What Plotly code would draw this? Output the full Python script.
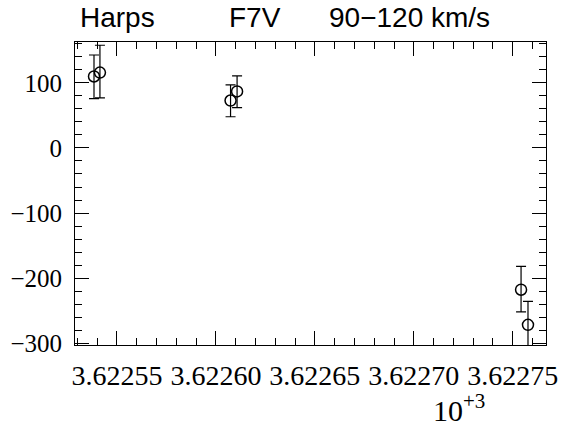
import plotly.graph_objects as go

# observation epochs (units of 10^3) and radial velocities
epoch = [3622.5384, 3622.5414, 3622.6074, 3622.6107, 3622.7542, 3622.7577]
rv = [110, 116, 73, 87, -218, -272]
rv_err_up = [33, 42, 24, 24, 36, 36]
rv_err_down = [34, 39, 25, 25, 34, 50]

xtick_vals = [3622.55, 3622.60, 3622.65, 3622.70, 3622.75]
xtick_text = ['3.62255', '3.62260', '3.62265', '3.62270', '3.62275']
ytick_vals = [100, 0, -100, -200, -300]
ytick_text = ['100', '0', '\u2212100', '\u2212200', '\u2212300']

fig = go.Figure()

fig.add_trace(go.Scatter(
    x=epoch,
    y=rv,
    mode='markers',
    marker=dict(symbol='circle-open', size=11, color='black', line=dict(width=1.5, color='black')),
    error_y=dict(type='data', symmetric=False, array=rv_err_up, arrayminus=rv_err_down,
                 color='black', thickness=1.2, width=5),
    showlegend=False
))

sans = dict(family='Liberation Sans', size=28, color='black')

fig.update_layout(
    width=563, height=426,
    margin=dict(l=75, r=17, t=42, b=81),
    plot_bgcolor='white', paper_bgcolor='white',
    annotations=[
        dict(text='Harps', x=0.006, y=1.023, xref='paper', yref='paper',
             xanchor='left', yanchor='bottom', showarrow=False, font=sans),
        dict(text='F7V', x=0.322, y=1.023, xref='paper', yref='paper',
             xanchor='left', yanchor='bottom', showarrow=False, font=sans),
        dict(text='90\u2212120 km/s', x=0.535, y=1.023, xref='paper', yref='paper',
             xanchor='left', yanchor='bottom', showarrow=False, font=sans),
        dict(text='10<sup>+3</sup>', x=0.875, y=-0.138,
             xref='paper', yref='paper', xanchor='right', yanchor='top', showarrow=False,
             font=dict(family='Liberation Serif', size=30, color='black')),
    ]
)

fig.update_xaxes(
    range=[3622.5288, 3622.7668],
    tickvals=xtick_vals, ticktext=xtick_text,
    ticks='inside', ticklen=14, tickwidth=1, tickcolor='black',
    showline=True, linecolor='black', linewidth=1, mirror='allticks',
    showgrid=False, zeroline=False, automargin=False,
    minor=dict(ticks='inside', ticklen=7, dtick=0.01, tick0=3622.55, tickcolor='black', showgrid=False),
    tickfont=dict(family='Liberation Serif', size=28, color='black'), ticklabelstandoff=5
)
fig.update_yaxes(
    range=[-303, 163],
    tickvals=ytick_vals, ticktext=ytick_text,
    ticks='inside', ticklen=14, tickwidth=1, tickcolor='black',
    showline=True, linecolor='black', linewidth=1, mirror='allticks',
    showgrid=False, zeroline=False, automargin=False,
    minor=dict(ticks='inside', ticklen=7, dtick=20, tick0=0, tickcolor='black', showgrid=False),
    tickfont=dict(family='Liberation Serif', size=25, color='black'), ticklabelstandoff=7
)

# drop the default 8px body margin so the figure fills the window
fig.write_html("out.html", config={'displayModeBar': False},
               post_script="document.body.style.margin = '0';")
